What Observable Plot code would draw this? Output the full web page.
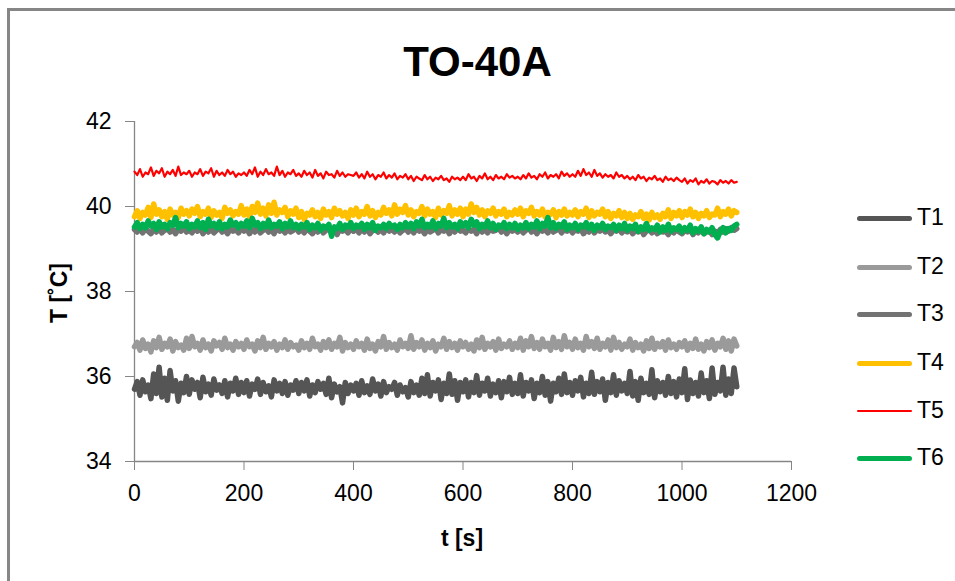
<!DOCTYPE html>
<html>
<head>
<meta charset="utf-8">
<script src="https://cdn.jsdelivr.net/npm/d3@7"></script>
<script src="https://cdn.jsdelivr.net/npm/@observablehq/plot@0.6"></script>
<style>
  html, body { margin: 0; padding: 0; background: #fff; }
  #wrap { position: relative; width: 955px; height: 581px; overflow: hidden; font-family: "Liberation Sans", Arial, sans-serif; }
  #chart { position: absolute; left: 0; top: 0; }
  .bt { position: absolute; left: 7px; top: 8px; width: 948px; height: 3px; background: #868686; }
  .bl { position: absolute; left: 7px; top: 8px; width: 3px; height: 573px; background: #868686; }
  .title { position: absolute; left: 0; width: 955px; top: 38px; text-align: center; font-weight: bold; font-size: 42px; color: #000; }
  .xlab { position: absolute; left: 412px; width: 100px; top: 525px; text-align: center; font-weight: bold; font-size: 23px; color: #000; }
  .ylab { position: absolute; left: 59px; top: 293px; transform: translate(-50%, -50%) rotate(-90deg); white-space: nowrap; font-weight: bold; font-size: 23px; color: #000; }
  .leg { position: absolute; left: 857px; }
  .leg .ln { position: absolute; left: 0; width: 55px; border-radius: 3px; }
  .leg .tx { position: absolute; left: 60px; top: -14px; font-size: 23px; color: #000; white-space: nowrap; }
</style>
</head>
<body>
<div id="wrap">
  <div id="chart"></div>
  <div class="bt"></div>
  <div class="bl"></div>
  <div class="title">TO-40A</div>
  <div class="xlab">t [s]</div>
  <div class="ylab">T [˚C]</div>
  <div id="legend"></div>
</div>
<script>
const seriesNames = ["T1", "T2", "T3", "T4", "T5", "T6"];
const seriesColors = ["#555555", "#9a9a9a", "#737373", "#ffc000", "#ff0000", "#00b050"];
const seriesWidths = [5.5, 5.5, 5.5, 5.5, 2.2, 5.5];
const legendWidths = [5, 5, 5, 5, 2, 5];
const xTicks = [0, 200, 400, 600, 800, 1000, 1200];
const yTicks = [34, 36, 38, 40, 42];

const time = [0,5,10,15,20,25,30,35,40,45,50,55,60,65,70,75,80,85,90,95,
100,105,110,115,120,125,130,135,140,145,150,155,160,165,170,175,180,185,190,195,
200,205,210,215,220,225,230,235,240,245,250,255,260,265,270,275,280,285,290,295,
300,305,310,315,320,325,330,335,340,345,350,355,360,365,370,375,380,385,390,395,
400,405,410,415,420,425,430,435,440,445,450,455,460,465,470,475,480,485,490,495,
500,505,510,515,520,525,530,535,540,545,550,555,560,565,570,575,580,585,590,595,
600,605,610,615,620,625,630,635,640,645,650,655,660,665,670,675,680,685,690,695,
700,705,710,715,720,725,730,735,740,745,750,755,760,765,770,775,780,785,790,795,
800,805,810,815,820,825,830,835,840,845,850,855,860,865,870,875,880,885,890,895,
900,905,910,915,920,925,930,935,940,945,950,955,960,965,970,975,980,985,990,995,
1000,1005,1010,1015,1020,1025,1030,1035,1040,1045,1050,1055,1060,1065,1070,1075,1080,1085,1090,1095,
1100];

const T1 = [35.70,35.88,35.56,35.92,35.64,35.80,35.48,36.06,35.60,36.22,35.52,35.96,35.44,36.14,35.66,35.90,35.42,35.84,35.62,36.00,
35.58,35.92,35.70,35.86,35.50,35.98,35.64,35.82,35.56,35.94,35.68,35.80,35.60,35.90,35.52,35.84,35.66,35.96,35.58,35.86,
35.62,35.90,35.54,35.82,35.70,35.94,35.58,35.86,35.64,35.78,35.52,35.92,35.66,35.84,35.60,35.88,35.56,35.80,35.68,35.90,
35.60,35.86,35.66,35.92,35.54,35.80,35.62,35.88,35.70,35.84,35.58,35.96,35.50,35.82,35.64,35.76,35.38,35.86,35.60,35.80,
35.66,35.84,35.56,35.90,35.62,35.78,35.58,35.94,35.66,35.82,35.54,35.88,35.62,35.76,35.70,35.86,35.56,35.80,35.64,35.74,
35.52,35.88,35.62,35.80,35.56,35.96,35.60,36.04,35.54,35.86,35.66,35.92,35.46,35.84,35.60,36.06,35.58,35.90,35.44,35.86,
35.64,35.92,35.52,35.86,35.62,36.02,35.56,35.84,35.66,35.96,35.54,35.82,35.62,35.90,35.50,35.88,35.64,35.98,35.58,35.84,
35.60,36.04,35.54,35.86,35.66,35.92,35.48,35.84,35.62,36.00,35.56,35.88,35.42,35.84,35.64,35.96,35.58,36.06,35.62,35.86,
35.56,35.90,35.66,35.98,35.52,35.84,35.60,36.10,35.58,35.88,35.64,35.94,35.44,35.86,35.62,36.04,35.56,35.90,35.66,35.84,
35.60,36.12,35.54,35.88,35.44,35.96,35.62,35.84,35.58,36.16,35.50,35.90,35.64,35.86,35.56,36.00,35.60,35.88,35.52,35.94,
35.62,36.18,35.46,35.92,35.60,35.86,35.54,36.08,35.62,35.90,35.48,36.20,35.58,35.86,35.66,36.22,35.56,35.94,35.60,36.20,
35.76];

const T2 = [36.70,36.80,36.62,36.86,36.66,36.76,36.58,36.84,36.68,36.92,36.64,36.78,36.70,36.88,36.60,36.82,36.68,36.74,36.62,36.90,
36.66,36.94,36.70,36.78,36.62,36.86,36.68,36.76,36.60,36.84,36.72,36.80,36.64,36.90,36.68,36.76,36.62,36.82,36.70,36.78,
36.64,36.86,36.70,36.76,36.60,36.84,36.68,36.92,36.64,36.78,36.70,36.82,36.62,36.76,36.68,36.86,36.64,36.80,36.70,36.74,
36.62,36.84,36.68,36.78,36.64,36.90,36.70,36.76,36.62,36.82,36.68,36.86,36.64,36.78,36.70,36.92,36.60,36.80,36.68,36.76,
36.64,36.84,36.70,36.78,36.62,36.88,36.66,36.76,36.60,36.82,36.70,36.94,36.64,36.80,36.68,36.76,36.62,36.86,36.70,36.78,
36.66,36.96,36.64,36.80,36.70,36.86,36.62,36.78,36.68,36.84,36.60,36.76,36.70,36.90,36.64,36.82,36.68,36.78,36.62,36.84,
36.70,36.80,36.64,36.76,36.60,36.86,36.68,36.92,36.64,36.78,36.70,36.82,36.62,36.88,36.66,36.76,36.70,36.84,36.64,36.78,
36.68,36.90,36.62,36.84,36.70,36.94,36.66,36.80,36.64,36.88,36.70,36.78,36.62,36.92,36.68,36.82,36.64,36.96,36.70,36.80,
36.64,36.88,36.68,36.78,36.62,36.94,36.70,36.82,36.66,36.90,36.64,36.78,36.70,36.86,36.62,36.92,36.68,36.80,36.64,36.76,
36.70,36.88,36.62,36.80,36.68,36.76,36.60,36.84,36.66,36.90,36.64,36.78,36.70,36.82,36.62,36.86,36.68,36.76,36.64,36.80,
36.70,36.84,36.62,36.78,36.66,36.88,36.64,36.76,36.60,36.82,36.68,36.86,36.62,36.78,36.70,36.90,36.64,36.84,36.60,36.88,
36.72];

const T3 = [39.46,39.40,39.50,39.38,39.48,39.42,39.36,39.46,39.40,39.50,39.38,39.44,39.48,39.40,39.46,39.36,39.48,39.42,39.50,39.40,
39.44,39.38,39.48,39.42,39.50,39.36,39.46,39.40,39.48,39.38,39.44,39.50,39.40,39.46,39.36,39.48,39.42,39.46,39.38,39.50,
39.42,39.48,39.36,39.46,39.40,39.50,39.38,39.44,39.48,39.40,39.46,39.36,39.50,39.42,39.46,39.38,39.48,39.40,39.44,39.50,
39.40,39.46,39.38,39.48,39.42,39.36,39.46,39.40,39.50,39.38,39.44,39.48,39.40,39.46,39.34,39.48,39.42,39.46,39.38,39.48,
39.42,39.48,39.38,39.46,39.40,39.50,39.36,39.44,39.48,39.40,39.46,39.38,39.50,39.42,39.46,39.40,39.48,39.38,39.44,39.48,
39.40,39.46,39.38,39.50,39.42,39.46,39.36,39.48,39.40,39.44,39.50,39.38,39.46,39.42,39.48,39.36,39.46,39.40,39.50,39.42,
39.44,39.38,39.48,39.42,39.46,39.36,39.50,39.40,39.46,39.38,39.48,39.42,39.44,39.50,39.40,39.46,39.36,39.48,39.42,39.46,
39.40,39.48,39.38,39.44,39.50,39.40,39.46,39.36,39.48,39.42,39.46,39.38,39.50,39.40,39.44,39.48,39.38,39.46,39.42,39.48,
39.38,39.46,39.42,39.48,39.36,39.44,39.40,39.50,39.38,39.46,39.42,39.48,39.40,39.44,39.36,39.46,39.42,39.48,39.38,39.44,
39.40,39.46,39.36,39.44,39.40,39.48,39.34,39.42,39.46,39.38,39.44,39.36,39.46,39.40,39.42,39.34,39.44,39.38,39.46,39.40,
39.36,39.44,39.40,39.46,39.34,39.42,39.38,39.46,39.36,39.40,39.44,39.34,39.42,39.38,39.46,39.40,39.48,39.42,39.50,39.44,
39.48];

const T4 = [39.76,39.90,39.72,39.86,39.80,39.98,39.74,40.06,39.82,39.92,39.76,39.88,39.70,39.94,39.80,39.86,39.74,39.96,39.82,39.90,
39.78,39.94,39.84,40.00,39.76,39.88,39.82,39.96,39.74,39.90,39.80,39.86,39.72,39.98,39.84,39.92,39.78,39.88,39.82,40.02,
39.80,39.94,39.76,40.00,39.86,40.08,39.82,39.96,39.78,40.04,39.84,40.10,39.80,39.92,39.86,39.98,39.76,39.90,39.82,39.96,
39.74,39.88,39.70,39.84,39.80,39.92,39.76,39.86,39.72,39.94,39.80,39.88,39.74,39.96,39.82,39.90,39.78,39.86,39.72,39.92,
39.80,39.96,39.76,39.88,39.82,40.00,39.78,39.90,39.74,39.86,39.80,39.98,39.84,39.92,39.78,40.04,39.82,39.94,39.86,40.02,
39.80,39.92,39.76,39.88,39.84,40.00,39.78,39.94,39.82,39.88,39.74,39.96,39.80,39.90,39.84,40.02,39.78,39.92,39.82,39.96,
39.76,39.94,39.82,40.06,39.86,39.98,39.80,39.92,39.76,39.90,39.84,39.96,39.78,39.88,39.82,39.94,39.76,39.86,39.80,39.92,
39.82,39.96,39.76,39.90,39.84,39.98,39.78,39.88,39.80,39.94,39.76,39.86,39.82,39.92,39.74,39.88,39.80,39.94,39.78,39.86,
39.80,39.92,39.76,39.88,39.82,39.96,39.74,39.90,39.78,39.86,39.82,39.94,39.76,39.88,39.72,39.84,39.78,39.90,39.74,39.86,
39.72,39.84,39.70,39.80,39.76,39.88,39.72,39.82,39.68,39.86,39.74,39.80,39.70,39.84,39.76,39.92,39.72,39.86,39.78,39.90,
39.74,39.88,39.80,39.94,39.76,39.86,39.72,39.84,39.78,39.90,39.74,39.82,39.80,39.96,39.76,39.88,39.82,39.94,39.78,39.90,
39.86];

const T5 = [40.82,40.74,40.88,40.70,40.80,40.76,40.92,40.72,40.84,40.78,40.90,40.70,40.82,40.76,40.86,40.72,40.94,40.74,40.80,40.76,
40.84,40.70,40.80,40.76,40.88,40.72,40.82,40.78,40.90,40.70,40.84,40.74,40.80,40.72,40.86,40.76,40.82,40.70,40.78,40.74,
40.80,40.72,40.86,40.76,40.92,40.70,40.82,40.74,40.88,40.76,40.80,40.72,40.94,40.74,40.84,40.70,40.80,40.76,40.86,40.72,
40.78,40.70,40.84,40.74,40.80,40.68,40.86,40.72,40.78,40.66,40.82,40.74,40.76,40.68,40.84,40.72,40.80,40.70,40.76,40.74,
40.72,40.80,40.68,40.76,40.66,40.82,40.70,40.76,40.64,40.74,40.70,40.80,40.66,40.74,40.68,40.78,40.64,40.72,40.68,40.76,
40.64,40.72,40.60,40.70,40.66,40.62,40.74,40.64,40.70,40.60,40.68,40.64,40.72,40.62,40.66,40.58,40.70,40.64,40.68,40.62,
40.70,40.62,40.76,40.66,40.70,40.60,40.72,40.66,40.78,40.64,40.70,40.62,40.74,40.66,40.70,40.64,40.76,40.68,40.72,40.66,
40.70,40.64,40.74,40.66,40.78,40.68,40.72,40.64,40.76,40.70,40.80,40.66,40.74,40.70,40.76,40.66,40.82,40.72,40.78,40.70,
40.76,40.70,40.84,40.72,40.88,40.74,40.80,40.70,40.86,40.72,40.78,40.68,40.76,40.70,40.74,40.66,40.80,40.70,40.74,40.66,
40.72,40.64,40.70,40.62,40.74,40.66,40.70,40.60,40.68,40.64,40.72,40.62,40.66,40.58,40.70,40.62,40.66,40.60,40.68,40.62,
40.58,40.66,40.54,40.62,40.58,40.66,40.52,40.60,40.56,40.64,40.54,40.60,40.58,40.52,40.62,40.56,40.60,40.54,40.62,40.56,
40.58];

const T6 = [39.52,39.62,39.48,39.58,39.50,39.66,39.54,39.60,39.46,39.64,39.52,39.58,39.48,39.62,39.56,39.74,39.50,39.60,39.54,39.64,
39.48,39.58,39.52,39.66,39.50,39.62,39.46,39.70,39.54,39.60,39.50,39.64,39.48,39.58,39.52,39.68,39.56,39.62,39.50,39.60,
39.54,39.66,39.50,39.72,39.56,39.62,39.48,39.60,39.52,39.68,39.50,39.58,39.54,39.64,39.48,39.60,39.52,39.66,39.50,39.58,
39.48,39.58,39.52,39.62,39.46,39.56,39.50,39.60,39.44,39.54,39.50,39.58,39.30,39.52,39.48,39.60,39.46,39.56,39.52,39.62,
39.48,39.56,39.52,39.60,39.46,39.58,39.50,39.62,39.44,39.54,39.50,39.58,39.48,39.60,39.52,39.56,39.46,39.58,39.50,39.62,
39.52,39.60,39.48,39.64,39.54,39.70,39.50,39.58,39.52,39.66,39.48,39.60,39.54,39.72,39.50,39.62,39.52,39.58,39.48,39.64,
39.54,39.62,39.50,39.70,39.56,39.64,39.48,39.58,39.52,39.66,39.50,39.60,39.46,39.56,39.52,39.62,39.48,39.58,39.50,39.60,
39.46,39.56,39.50,39.62,39.48,39.58,39.52,39.66,39.48,39.60,39.54,39.74,39.50,39.62,39.48,39.58,39.52,39.64,39.46,39.56,
39.50,39.60,39.46,39.56,39.52,39.62,39.48,39.58,39.44,39.56,39.50,39.60,39.46,39.54,39.50,39.58,39.44,39.56,39.48,39.60,
39.44,39.54,39.48,39.58,39.42,39.52,39.46,39.60,39.44,39.50,39.46,39.56,39.40,39.52,39.44,39.58,39.42,39.50,39.46,39.54,
39.40,39.50,39.44,39.56,39.38,39.48,39.42,39.52,39.36,39.46,39.40,39.50,39.34,39.26,39.42,39.50,39.38,39.48,39.44,39.54,
39.58];

const allSeries = [T1, T2, T3, T4, T5, T6];
const rows = [];
allSeries.forEach((vals, si) => {
  vals.forEach((v, i) => rows.push({series: seriesNames[si], t: time[i], T: v}));
});

const axisColor = "#868686";
const marks = [
  Plot.ruleX([0], {stroke: axisColor, strokeWidth: 1.3}),
  Plot.ruleY([34], {stroke: axisColor, strokeWidth: 1.3}),
  Plot.axisX({ticks: xTicks, tickFormat: "d", tickSize: 9, tickPadding: 14, stroke: axisColor, strokeOpacity: 1, fill: "#000", label: null}),
  Plot.axisY({ticks: yTicks, tickFormat: "d", tickSize: 9, tickPadding: 14, stroke: axisColor, strokeOpacity: 1, fill: "#000", label: null})
];
seriesNames.forEach((name, si) => {
  marks.push(Plot.line(rows.filter(d => d.series === name), {
    x: "t", y: "T", stroke: seriesColors[si], strokeWidth: seriesWidths[si], strokeLinejoin: "round"
  }));
});

const chart = Plot.plot({
  width: 955,
  height: 581,
  marginLeft: 134,
  marginRight: 164,
  marginTop: 121,
  marginBottom: 120,
  style: {fontFamily: "'Liberation Sans', Arial, sans-serif", fontSize: "23px", background: "transparent", color: "#000"},
  x: {domain: [0, 1200]},
  y: {domain: [34, 42]},
  marks
});
document.getElementById("chart").appendChild(chart);

const legendRows = [218, 267, 314, 363, 411, 458];
const legend = document.getElementById("legend");
seriesNames.forEach((name, si) => {
  const item = document.createElement("div");
  item.className = "leg";
  item.style.top = legendRows[si] + "px";
  const ln = document.createElement("div");
  ln.className = "ln";
  ln.style.background = seriesColors[si];
  const h = legendWidths[si];
  ln.style.height = h + "px";
  ln.style.top = -h / 2 + "px";
  const tx = document.createElement("div");
  tx.className = "tx";
  tx.textContent = name;
  item.appendChild(ln);
  item.appendChild(tx);
  legend.appendChild(item);
});
</script>
</body>
</html>
